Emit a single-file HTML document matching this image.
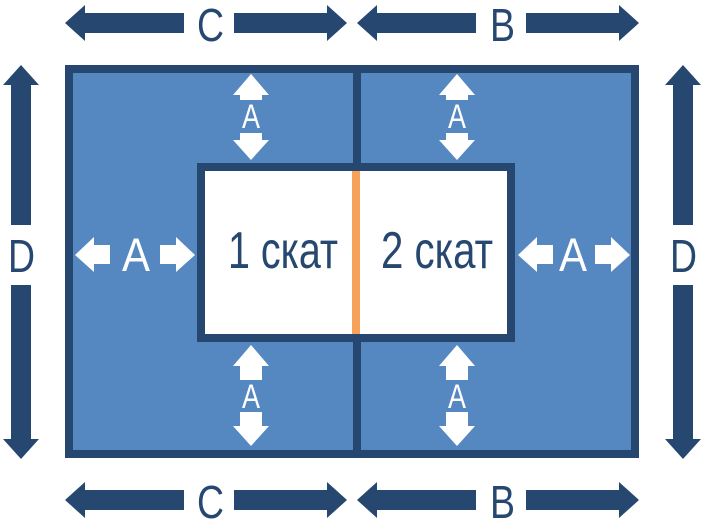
<!DOCTYPE html>
<html><head><meta charset="utf-8"><style>
html,body{margin:0;padding:0;background:#fff;}
svg{display:block;}
text{font-family:"Liberation Sans Narrow","Liberation Sans",sans-serif;}
</style></head><body>
<svg width="705" height="522" viewBox="0 0 705 522" xmlns="http://www.w3.org/2000/svg">
<g fill="#264870">
<polygon points="65,23 85,5 85,13 184,13 184,33 85,33 85,41"/>
<polygon points="347,23 327,5 327,13 234,13 234,33 327,33 327,41"/>
<polygon points="357,23 377,5 377,13 476,13 476,33 377,33 377,41"/>
<polygon points="639,23 619,5 619,13 526,13 526,33 619,33 619,41"/>
<polygon points="65,500 85,482 85,490 184,490 184,510 85,510 85,518"/>
<polygon points="347,500 327,482 327,490 234,490 234,510 327,510 327,518"/>
<polygon points="357,500 377,482 377,490 476,490 476,510 377,510 377,518"/>
<polygon points="639,500 619,482 619,490 526,490 526,510 619,510 619,518"/>
<polygon points="21,65 3,85 11,85 11,225 31,225 31,85 39,85"/>
<polygon points="21,459 3,439 11,439 11,285 31,285 31,439 39,439"/>
<polygon points="683,65 665,85 673,85 673,225 693,225 693,85 701,85"/>
<polygon points="683,459 665,439 673,439 673,285 693,285 693,439 701,439"/>
</g>
<g fill="#264870" font-size="46" lengthAdjust="spacingAndGlyphs">
<text x="197" y="41" textLength="27" lengthAdjust="spacingAndGlyphs">C</text>
<text x="490" y="41" textLength="25" lengthAdjust="spacingAndGlyphs">B</text>
<text x="197" y="518" textLength="27" lengthAdjust="spacingAndGlyphs">C</text>
<text x="490" y="518" textLength="25" lengthAdjust="spacingAndGlyphs">B</text>
<text x="8" y="272" textLength="27" lengthAdjust="spacingAndGlyphs">D</text>
<text x="670" y="272" textLength="27" lengthAdjust="spacingAndGlyphs">D</text>
</g>
<rect x="69" y="69" width="566" height="385" fill="#5588c1" stroke="#264870" stroke-width="8"/>
<rect x="353" y="69" width="8" height="385" fill="#264870"/>
<rect x="201" y="167" width="310" height="171" fill="#fff" stroke="#264870" stroke-width="8"/>
<rect x="352" y="171" width="8" height="163" fill="#f7a25a"/>
<g fill="#264870" font-size="52">
<text x="228" y="268" textLength="110" lengthAdjust="spacingAndGlyphs">1 скат</text>
<text x="381" y="268" textLength="112" lengthAdjust="spacingAndGlyphs">2 скат</text>
</g>
<g fill="#fff">
<polygon points="251,74 233,95 240,95 240,100 262,100 262,95 269,95"/>
<polygon points="251,160 233,140 240,140 240,133 262,133 262,140 269,140"/>
<polygon points="457,74 439,95 446,95 446,100 468,100 468,95 475,95"/>
<polygon points="457,160 439,140 446,140 446,133 468,133 468,140 475,140"/>
<polygon points="251,345 233,366 240,366 240,380 262,380 262,366 269,366"/>
<polygon points="251,446 233,426 240,426 240,412 262,412 262,426 269,426"/>
<polygon points="457,345 439,366 446,366 446,380 468,380 468,366 475,366"/>
<polygon points="457,446 439,426 446,426 446,412 468,412 468,426 475,426"/>
<polygon points="75,255 94,237 94,245 110,245 110,264 94,264 94,272"/>
<polygon points="195,255 176,237 176,245 160,245 160,264 176,264 176,272"/>
<polygon points="518,255 537,237 537,245 553,245 553,264 537,264 537,272"/>
<polygon points="630,255 611,237 611,245 595,245 595,264 611,264 611,272"/>
</g>
<g fill="#fff">
<text x="242" y="128" font-size="34" textLength="18" lengthAdjust="spacingAndGlyphs">A</text>
<text x="448" y="128" font-size="34" textLength="18" lengthAdjust="spacingAndGlyphs">A</text>
<text x="242" y="408" font-size="34" textLength="18" lengthAdjust="spacingAndGlyphs">A</text>
<text x="448" y="408" font-size="34" textLength="18" lengthAdjust="spacingAndGlyphs">A</text>
<text x="122" y="271" font-size="47" textLength="28" lengthAdjust="spacingAndGlyphs">A</text>
<text x="559" y="271" font-size="47" textLength="28" lengthAdjust="spacingAndGlyphs">A</text>
</g>
</svg>
</body></html>
